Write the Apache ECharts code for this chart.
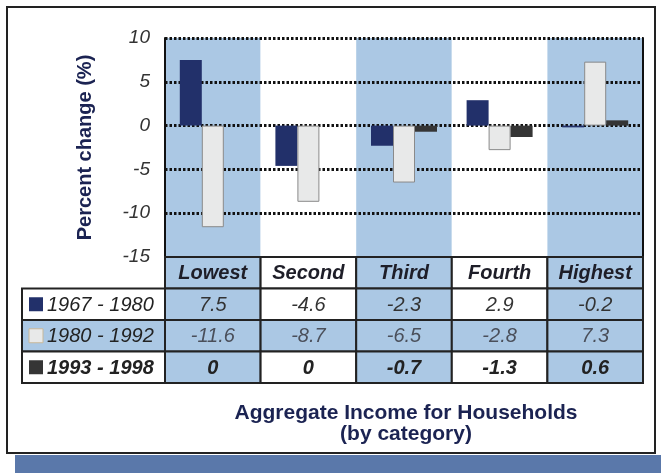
<!DOCTYPE html>
<html>
<head>
<meta charset="utf-8">
<script src="https://cdn.jsdelivr.net/npm/echarts@6/dist/echarts.min.js"></script>
<style>html,body{margin:0;padding:0;background:#fff;}#c{width:661px;height:474px;}</style>
</head>
<body>
<div id="c"></div>
<script>
// ---- data ----
const categories = ['Lowest', 'Second', 'Third', 'Fourth', 'Highest'];
const seriesNames = ['1967 - 1980', '1980 - 1992', '1993 - 1998'];
const values1967 = [7.5, -4.6, -2.3, 2.9, -0.2];
const values1980 = [-11.6, -8.7, -6.5, -2.8, 7.3];
const values1993 = [0, 0, -0.7, -1.3, 0.6];
const yTicks = { min: -15, max: 10, interval: 5 };
const yAxisName = 'Percent change (%)';
const xAxisTitle = 'Aggregate Income for Households\n(by category)';

// ---- styles ----
const seriesValues = [values1967, values1980, values1993];
const barColors = ['#22306a', '#e8e9e9', '#353535'];
const BLUE = '#abc8e4';
const FONT = '"Liberation Sans", Arial, sans-serif';
const NAVY = '#1b2352';

function cellFill(c, r) {
  if (r === 2) return BLUE;
  return c % 2 === 0 ? BLUE : '#ffffff';
}

const tableData = [];
for (let r = 0; r < 4; r++) for (let c = 0; c < categories.length; c++) tableData.push([c, r]);
const legendData = seriesNames.map((n, i) => [0, i]);

function renderTableCell(params, api) {
  const c = api.value(0), r = api.value(1);
  const pt = api.coord([c, r]);
  const sz = api.size([1, 1]);
  const text = r === 0 ? categories[c] : String(seriesValues[r - 1][c]);
  let font, color;
  if (r === 0) { font = 'italic bold 20px ' + FONT; color = '#1e1e28'; }
  else if (r === 3) { font = 'italic bold 20px ' + FONT; color = '#222'; }
  else if (r === 2) { font = 'italic 20px ' + FONT; color = '#4a4f5a'; }
  else { font = 'italic 20px ' + FONT; color = '#333'; }
  return {
    type: 'group',
    children: [
      { type: 'rect', shape: { x: pt[0] - sz[0] / 2, y: pt[1] - sz[1] / 2, width: sz[0], height: sz[1] },
        style: { fill: cellFill(c, r), stroke: '#222', lineWidth: 2 } },
      { type: 'text', style: { x: pt[0], y: pt[1] + 1, text: text, align: 'center', verticalAlign: 'middle', font: font, fill: color } }
    ]
  };
}

function renderLegendCell(params, api) {
  const r = api.value(1);
  const pt = api.coord([0, r]);
  const sz = api.size([1, 1]);
  const x0 = pt[0] - sz[0] / 2, y0 = pt[1] - sz[1] / 2;
  const font = (r === 2 ? 'italic bold 20px ' : 'italic 20px ') + FONT;
  return {
    type: 'group',
    children: [
      { type: 'rect', shape: { x: x0, y: y0, width: sz[0], height: sz[1] },
        style: { fill: r === 1 ? BLUE : '#ffffff', stroke: '#222', lineWidth: 2 } },
      { type: 'rect', shape: { x: x0 + 7, y: pt[1] - 7, width: 14, height: 14 },
        style: { fill: barColors[r], stroke: r === 1 ? '#c8b89a' : null, lineWidth: 1 } },
      { type: 'text', style: { x: x0 + 25, y: pt[1] + 1, text: seriesNames[r], align: 'left', verticalAlign: 'middle', font: font, fill: '#222' } }
    ]
  };
}

const chart = echarts.init(document.getElementById('c'), null, { renderer: 'canvas' });
chart.setOption({
  animation: false,
  backgroundColor: '#ffffff',
  title: {
    text: xAxisTitle,
    left: 401, top: 398, textAlign: 'center',
    textStyle: { fontFamily: FONT, fontSize: 21, fontWeight: 'bold', color: NAVY, lineHeight: 21 }
  },
  graphic: [
    { type: 'rect', z: -1, shape: { x: 15, y: 455, width: 646, height: 18 }, style: { fill: '#5a78aa' } },
    { type: 'rect', z: 0, shape: { x: 7, y: 7, width: 648, height: 446 }, style: { fill: null, stroke: '#222', lineWidth: 2 } }
  ],
  grid: [
    { left: 165, right: 18, top: 38, bottom: 217 },
    { left: 165, right: 18, top: 257, height: 126 },
    { left: 22, width: 143, top: 288.5, height: 94.5 }
  ],
  xAxis: [
    { type: 'category', gridIndex: 0, data: categories, z: 0,
      axisLine: { show: false }, axisTick: { show: false }, axisLabel: { show: false },
      splitArea: { show: true, areaStyle: { color: [BLUE, '#ffffff'] } } },
    { type: 'category', gridIndex: 1, data: categories, show: false },
    { type: 'category', gridIndex: 2, data: ['legend'], show: false }
  ],
  yAxis: [
    { type: 'value', gridIndex: 0, min: yTicks.min, max: yTicks.max, interval: yTicks.interval, z: 1,
      name: yAxisName, nameLocation: 'middle', nameGap: 70, nameRotate: 90,
      nameTextStyle: { fontFamily: FONT, fontSize: 20, fontWeight: 'bold', color: NAVY },
      axisLine: { show: true, lineStyle: { color: '#111', width: 2 } },
      axisTick: { show: false },
      axisLabel: { fontFamily: FONT, fontSize: 19, fontStyle: 'italic', color: '#333', margin: 15 },
      splitLine: { show: true, lineStyle: { color: '#111', width: 3, type: [2.5, 2] } } },
    { type: 'value', gridIndex: 0, position: 'right', min: yTicks.min, max: yTicks.max, interval: yTicks.interval, z: 1,
      axisLine: { show: true, lineStyle: { color: '#111', width: 2 } },
      axisTick: { show: false }, axisLabel: { show: false }, splitLine: { show: false } },
    { type: 'category', gridIndex: 1, data: ['header'].concat(seriesNames), inverse: true, show: false },
    { type: 'category', gridIndex: 2, data: seriesNames, inverse: true, show: false }
  ],
  series: [
    { name: seriesNames[0], type: 'bar', xAxisIndex: 0, yAxisIndex: 0, data: values1967, barWidth: 22, barGap: '0%',
      itemStyle: { color: barColors[0] } },
    { name: seriesNames[1], type: 'bar', xAxisIndex: 0, yAxisIndex: 0, data: values1980, barWidth: 22, barGap: '0%',
      itemStyle: { color: barColors[1], borderColor: '#8a8a8a', borderWidth: 1 } },
    { name: seriesNames[2], type: 'bar', xAxisIndex: 0, yAxisIndex: 0, data: values1993, barWidth: 22, barGap: '0%',
      itemStyle: { color: barColors[2] } },
    { type: 'custom', xAxisIndex: 1, yAxisIndex: 2, data: tableData, renderItem: renderTableCell, silent: true },
    { type: 'custom', xAxisIndex: 2, yAxisIndex: 3, data: legendData, renderItem: renderLegendCell, silent: true }
  ]
});
</script>
</body>
</html>
